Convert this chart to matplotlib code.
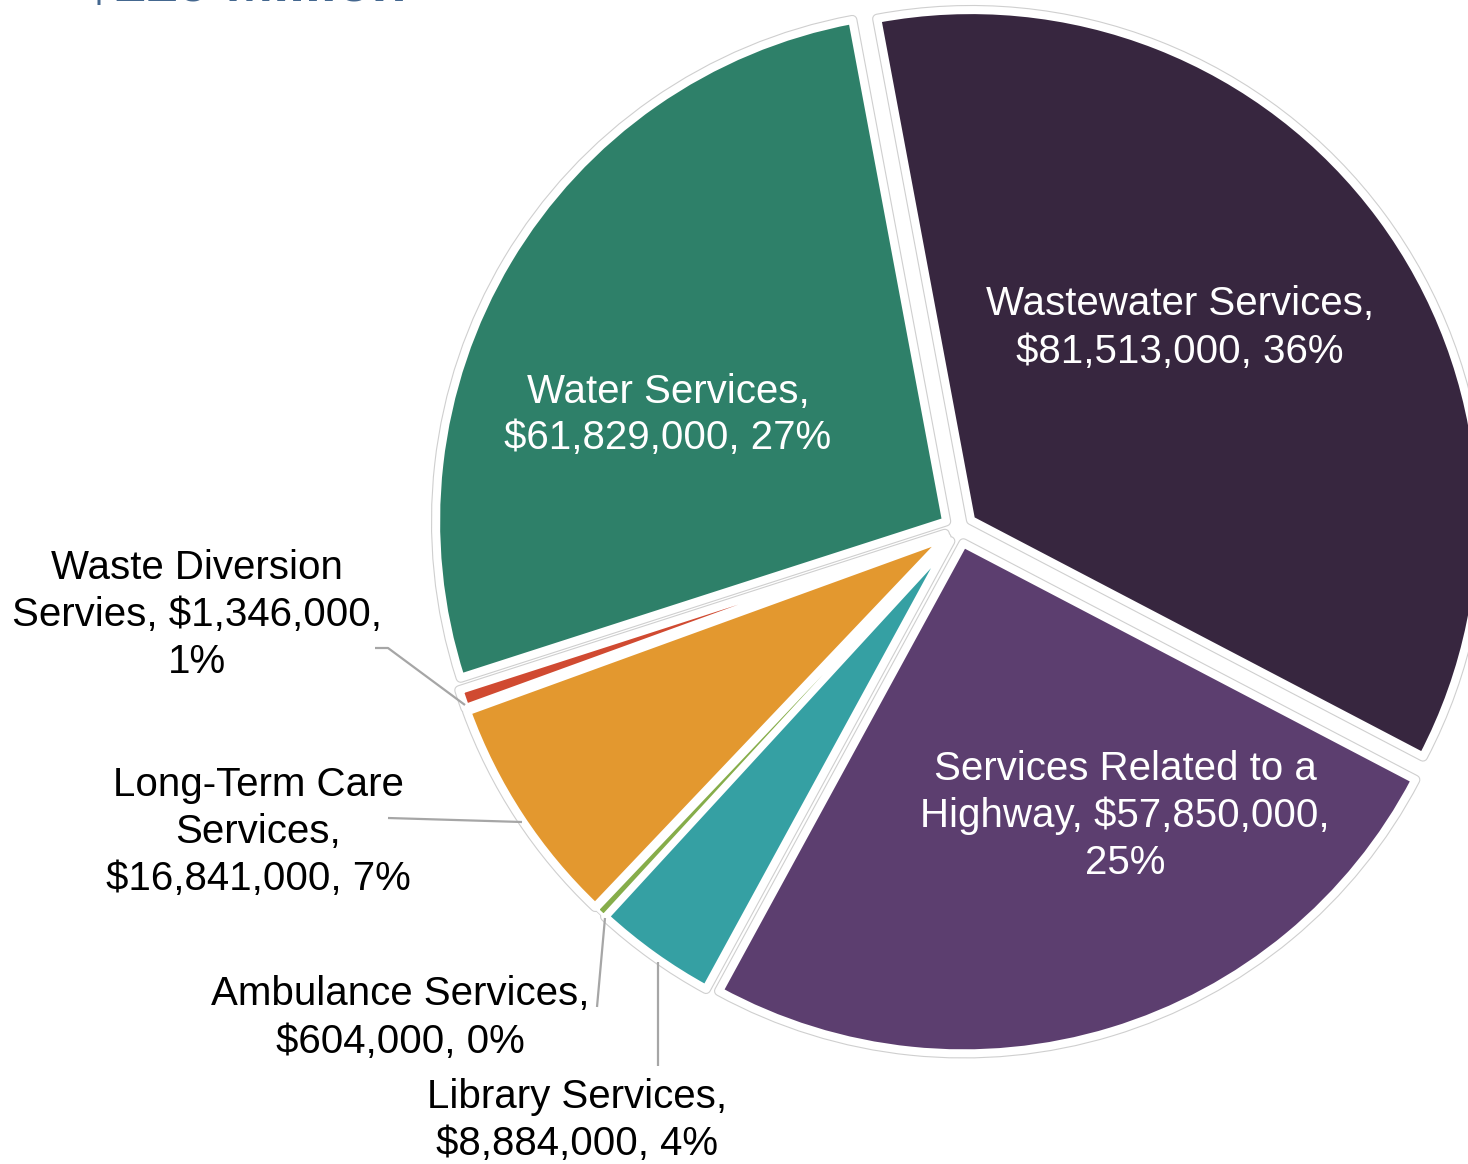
import matplotlib
matplotlib.use("Agg")
import matplotlib.pyplot as plt

# Development charge revenue by service
categories = [
    "Wastewater Services",
    "Services Related to a Highway",
    "Library Services",
    "Ambulance Services",
    "Long-Term Care Services",
    "Waste Diversion Servies",
    "Water Services",
]
values = [81513000, 57850000, 8884000, 604000, 16841000, 1346000, 61829000]
colors = ["#37263f", "#5c3e6f", "#35a0a3", "#86ad4a", "#e3982f", "#d04a31", "#2e8069"]
title_text = "$229 Million"

# label wording with line breaks ({v} = amount, {p} = share)
label_templates = [
    "Wastewater Services,\n{v}, {p}",
    "Services Related to a\nHighway, {v},\n{p}",
    "Library Services,\n{v}, {p}",
    "Ambulance Services,\n{v}, {p}",
    "Long-Term Care\nServices,\n{v}, {p}",
    "Waste Diversion\nServies, {v},\n{p}",
    "Water Services,\n{v}, {p}",
]

W, H = 1468, 1164
fig = plt.figure(figsize=(W / 100, H / 100), dpi=100)
ax = fig.add_axes([0, 0, 1, 1])


def fy(y):
    """Convert a top-down pixel row to axis y."""
    return H - y


center = (959, fy(529))
radius = 510
explode = [15] * len(values)

# outer grey hairline, then white separators drawn on top
grey_w, _ = ax.pie(values, colors=colors, startangle=100.6, counterclock=False,
                   center=center, radius=radius, explode=explode,
                   wedgeprops=dict(edgecolor="#cfcfcf", linewidth=7.4,
                                   joinstyle="round"))
main_w, _ = ax.pie(values, colors=colors, startangle=100.6, counterclock=False,
                   center=center, radius=radius, explode=explode,
                   wedgeprops=dict(edgecolor="white", linewidth=5.8,
                                   joinstyle="round"))
# very thin slice keeps a narrow separator so it stays visible
grey_w[3].set_linewidth(3.4)
main_w[3].set_linewidth(2.2)

ax.set_xlim(0, W)
ax.set_ylim(0, H)
ax.set_aspect("equal")
ax.axis("off")

total = sum(values)
label_pos = [(1180, 328), (1125, 816), (577, 1121), (400, 1018),
             (258, 832), (197, 615), (668, 415)]
label_col = ["white", "white", "black", "black", "black", "black", "white"]

for tmpl, v, pos, col in zip(label_templates, values, label_pos, label_col):
    txt = tmpl.format(v=f"${v:,}", p=f"{round(v / total * 100)}%")
    ax.text(pos[0], fy(pos[1]), txt, ha="center", va="center", color=col,
            fontsize=29, family="Liberation Sans", linespacing=1.3)

# leader lines for the small outside labels
leaders = [
    [(375, 648), (388, 648), (465, 705)],
    [(388, 818), (522, 822)],
    [(597, 1007), (605, 918)],
    [(658, 1066), (658, 962)],
]
for pts in leaders:
    xs = [p[0] for p in pts]
    ys = [fy(p[1]) for p in pts]
    ax.plot(xs, ys, color="#a6a6a6", linewidth=1.6, solid_capstyle="butt")

ax.text(83, fy(1.0), title_text, ha="left", va="baseline", color="#44678f",
        fontsize=41, fontweight="bold", family="Liberation Sans")

fig.savefig("out.png", dpi=100)
